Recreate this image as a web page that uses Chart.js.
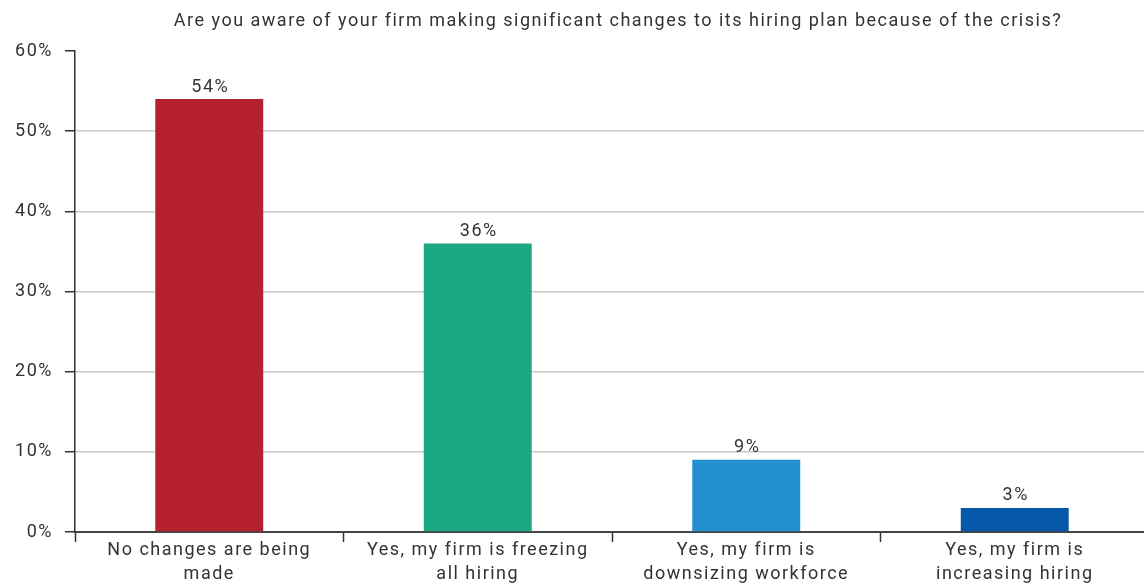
<!DOCTYPE html>
<html>
<head>
<meta charset="utf-8">
<script src="https://cdn.jsdelivr.net/npm/chart.js@4/dist/chart.umd.min.js"></script>
<style>
  html, body { margin: 0; padding: 0; background: #fff; overflow: hidden; }
  #wrap { width: 1149px; height: 600px; position: relative; }
</style>
</head>
<body>
<div id="wrap"><canvas id="myChart"></canvas></div>
<script>
// data
const titleText = 'Are you aware of your firm making significant changes to its hiring plan because of the crisis?';
const categories = [
    ['No changes are being', 'made'],
    ['Yes, my firm is freezing', 'all hiring'],
    ['Yes, my firm is', 'downsizing workforce'],
    ['Yes, my firm is', 'increasing hiring']
];
const values = [54, 36, 9, 3];
const barColors = ['#b5202e', '#1ba782', '#228fcf', '#0458a7'];
const yTicks = [0, 10, 20, 30, 40, 50, 60];

const fontFamily = 'Roboto, "Noto Sans", sans-serif';
const textColor = '#333333';

// the original uses a wide DIN-like face, so space the letters out a bit
const spacing = {
    id: 'spacing',
    beforeUpdate(chart) { chart.ctx.letterSpacing = '1.5px'; },
    beforeDraw(chart) { chart.ctx.letterSpacing = '1.5px'; }
};

// title is centred a little right of the canvas middle in the original
const topTitle = {
    id: 'topTitle',
    afterDraw(chart) {
        const ctx = chart.ctx;
        ctx.save();
        ctx.font = '18px ' + fontFamily;
        ctx.fillStyle = textColor;
        ctx.textAlign = 'center';
        ctx.textBaseline = 'middle';
        ctx.fillText(titleText, 618, 21);
        ctx.restore();
    }
};

// value labels above the bars
const barLabels = {
    id: 'barLabels',
    afterDatasetsDraw(chart) {
        const ctx = chart.ctx;
        const meta = chart.getDatasetMeta(0);
        ctx.save();
        ctx.font = '18px ' + fontFamily;
        ctx.fillStyle = textColor;
        ctx.textAlign = 'center';
        ctx.textBaseline = 'bottom';
        meta.data.forEach((bar, i) => {
            ctx.fillText(values[i] + '%', bar.x + 1, bar.y - 3);
        });
        ctx.restore();
    }
};

const data = {
    labels: categories,
    datasets: [{
        data: values,
        backgroundColor: barColors,
        borderWidth: 0,
        barPercentage: 0.402,
        categoryPercentage: 1
    }]
};

const config = {
    type: 'bar',
    data,
    options: {
        responsive: true,
        maintainAspectRatio: false,
        animation: false,
        layout: { padding: { left: 0, right: 0, top: 51, bottom: 0 } },
        plugins: {
            legend: { display: false },
            tooltip: { enabled: false },
            title: { display: false }
        },
        scales: {
            x: {
                grid: {
                    offset: true,
                    drawOnChartArea: false,
                    drawTicks: true,
                    tickLength: 10,
                    tickColor: '#333333',
                    tickWidth: 1.5
                },
                border: { display: true, color: '#444444', width: 2 },
                ticks: {
                    color: textColor,
                    font: { family: fontFamily, size: 18, lineHeight: 1.3 },
                    padding: -3,
                    maxRotation: 0,
                    autoSkip: false
                },
                afterFit(scale) { scale.height = 68; }
            },
            y: {
                min: 0,
                max: 60,
                afterBuildTicks(scale) {
                    scale.ticks = yTicks.map(v => ({ value: v }));
                },
                grid: {
                    color: ctx => (ctx.tick && (ctx.tick.value === 60 || ctx.tick.value === 0)) ? 'rgba(0,0,0,0)' : '#c9c9c9',
                    lineWidth: 1.5,
                    tickLength: 10,
                    tickColor: '#333333',
                    tickWidth: 1.5
                },
                border: { display: true, color: '#333333', width: 1.5 },
                ticks: {
                    color: textColor,
                    font: { family: fontFamily, size: 18 },
                    padding: 12,
                    callback: v => v + '%'
                },
                afterFit(scale) { scale.width = 75; }
            }
        }
    },
    plugins: [spacing, topTitle, barLabels]
};

const myChart = new Chart(document.getElementById('myChart'), config);
</script>
</body>
</html>
